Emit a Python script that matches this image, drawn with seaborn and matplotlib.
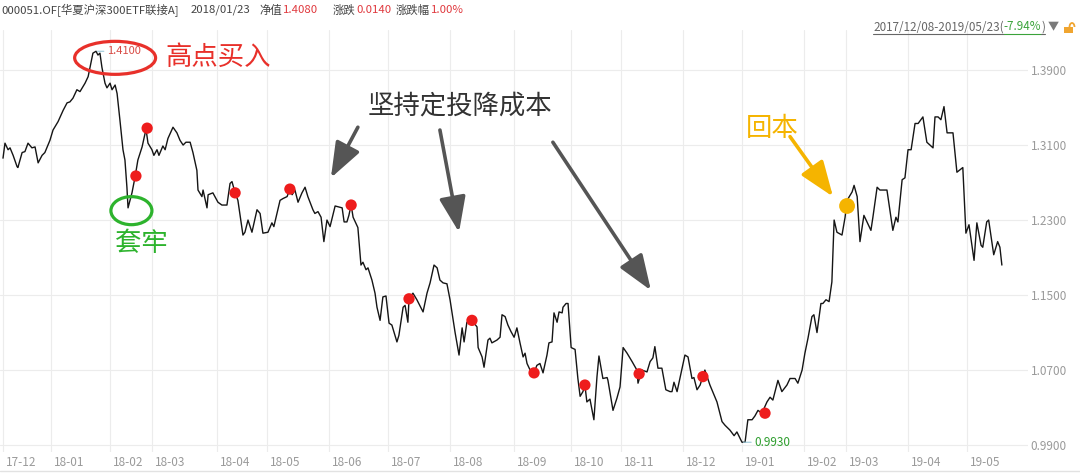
"""Fund NAV chart with buy-point annotations (000051.OF)."""

import matplotlib

matplotlib.use("Agg")
import matplotlib.pyplot as plt
import matplotlib.transforms as mtransforms
from matplotlib.lines import Line2D
from matplotlib.patches import Arc, Ellipse, Rectangle
import numpy as np
import pandas as pd
import seaborn as sns

sns.set_theme(style="white")
plt.rcParams["font.family"] = ["Noto Sans CJK SC", "DejaVu Sans"]

# ---- data ---------------------------------------------------------------
# trading-day index counted from 2017-12-08, and the unit NAV on that day
day = [
    0.0, 0.7, 1.8, 2.5, 3.6, 5.0, 5.3, 6.8, 7.8, 8.9,
    10.3, 11.4, 12.5, 13.9, 14.9, 16.7, 17.8, 19.6, 21.4, 22.8,
    23.8, 24.9, 26.3, 27.4, 29.2, 30.3, 31.3, 32.0, 33.1, 33.8,
    34.5, 35.2, 36.3, 37.0, 38.1, 38.8, 39.9, 40.6, 41.6, 42.7,
    43.4, 44.1, 44.5, 45.9, 47.0, 48.0, 49.5, 50.9, 51.6, 53.0,
    53.7, 54.8, 55.5, 56.9, 57.7, 58.7, 60.5, 61.9, 63.0, 64.1,
    65.1, 66.6, 67.6, 69.0, 69.4, 70.8, 71.2, 72.6, 73.0, 74.7,
    76.5, 77.9, 79.7, 80.8, 81.5, 82.6, 83.6, 85.4, 86.1, 87.2,
    88.6, 90.4, 91.5, 92.5, 94.3, 95.7, 96.4, 97.5, 98.6, 99.7,
    101.1, 102.1, 102.9, 103.9, 105.0, 106.4, 107.5, 108.5, 110.3, 111.0,
    112.1, 113.2, 114.2, 115.3, 116.4, 118.2, 120.7, 121.4, 122.4, 123.1,
    123.9, 124.6, 126.3, 127.4, 128.1, 129.2, 129.9, 131.3, 132.4, 133.1,
    134.2, 135.2, 136.3, 137.4, 138.4, 140.2, 140.9, 142.4, 143.1, 144.1,
    144.5, 145.9, 147.3, 149.5, 150.9, 152.0, 153.4, 154.5, 155.5, 156.6,
    158.0, 159.1, 160.9, 162.3, 163.4, 164.1, 165.1, 166.9, 168.7, 169.1,
    170.5, 171.2, 172.6, 173.3, 174.0, 175.8, 176.9, 177.6, 178.7, 179.7,
    180.8, 181.9, 182.9, 184.0, 185.1, 185.8, 186.5, 187.6, 189.0, 190.0,
    191.1, 192.2, 193.6, 194.3, 195.4, 196.1, 197.2, 197.9, 199.0, 199.3,
    200.4, 201.1, 202.2, 203.6, 204.6, 205.4, 206.4, 207.1, 207.8, 208.9,
    210.3, 211.4, 212.1, 213.5, 215.0, 215.3, 217.1, 218.5, 219.6, 220.7,
    222.1, 223.9, 225.6, 226.0, 227.4, 229.2, 230.3, 231.3, 232.0, 233.1,
    234.5, 235.9, 237.4, 238.1, 238.8, 239.9, 241.7, 242.7, 243.8, 245.2,
    245.9, 247.0, 248.1, 249.8, 251.6, 254.1, 255.9, 257.0, 258.7, 260.2,
    261.2, 263.0, 264.1, 265.1, 266.6, 267.6, 268.7, 270.1, 271.9, 273.0,
    274.0, 275.8, 277.2, 279.0, 280.1, 281.9, 282.9, 284.4, 285.4, 286.5,
    287.9, 288.6, 289.7, 291.1, 291.8, 292.9, 294.0, 295.0, 295.8, 296.8,
    298.6, 299.7, 300.4, 302.2, 302.9, 304.0, 305.0, 306.4, 307.5, 308.9,
    309.6, 311.1, 312.1, 314.6, 316.7, 317.8, 318.5, 320.0, 321.0, 322.1,
    323.2, 324.6, 325.7, 327.4, 328.8, 331.0, 331.7, 332.8, 333.8, 334.9,
    336.0, 338.1, 339.5, 341.6, 342.7, 343.8, 345.6, 346.6, 348.1, 348.7,
    350.1, 350.8, 352.6, 354.0, 354.8, 355.5,
]
nav = [
    1.296, 1.312, 1.305, 1.307, 1.299, 1.287, 1.286, 1.302, 1.303, 1.312,
    1.307, 1.308, 1.291, 1.299, 1.302, 1.315, 1.326, 1.335, 1.347, 1.355,
    1.356, 1.360, 1.369, 1.367, 1.376, 1.383, 1.398, 1.408, 1.410, 1.406,
    1.408, 1.393, 1.376, 1.371, 1.376, 1.369, 1.374, 1.365, 1.337, 1.305,
    1.294, 1.265, 1.243, 1.259, 1.276, 1.294, 1.308, 1.327, 1.312, 1.305,
    1.299, 1.305, 1.299, 1.309, 1.305, 1.317, 1.329, 1.323, 1.315, 1.310,
    1.313, 1.313, 1.302, 1.283, 1.262, 1.255, 1.262, 1.243, 1.257, 1.259,
    1.249, 1.246, 1.246, 1.269, 1.271, 1.259, 1.251, 1.214, 1.217, 1.230,
    1.217, 1.241, 1.237, 1.216, 1.217, 1.227, 1.223, 1.237, 1.251, 1.253,
    1.255, 1.263, 1.257, 1.262, 1.249, 1.259, 1.265, 1.255, 1.241, 1.237,
    1.239, 1.233, 1.207, 1.230, 1.223, 1.245, 1.243, 1.228, 1.228, 1.235,
    1.246, 1.233, 1.222, 1.182, 1.185, 1.177, 1.179, 1.166, 1.152, 1.137,
    1.123, 1.148, 1.149, 1.120, 1.118, 1.100, 1.107, 1.137, 1.139, 1.121,
    1.146, 1.152, 1.145, 1.132, 1.152, 1.163, 1.182, 1.179, 1.166, 1.163,
    1.162, 1.145, 1.110, 1.086, 1.115, 1.100, 1.121, 1.123, 1.116, 1.094,
    1.084, 1.073, 1.102, 1.104, 1.099, 1.102, 1.105, 1.129, 1.127, 1.118,
    1.111, 1.105, 1.115, 1.099, 1.084, 1.088, 1.077, 1.070, 1.067, 1.075,
    1.077, 1.067, 1.086, 1.099, 1.100, 1.131, 1.121, 1.132, 1.131, 1.137,
    1.141, 1.141, 1.094, 1.092, 1.061, 1.042, 1.047, 1.054, 1.036, 1.039,
    1.017, 1.063, 1.085, 1.061, 1.062, 1.059, 1.027, 1.040, 1.052, 1.094,
    1.088, 1.079, 1.070, 1.056, 1.070, 1.068, 1.079, 1.083, 1.095, 1.072,
    1.072, 1.049, 1.047, 1.047, 1.057, 1.047, 1.072, 1.086, 1.084, 1.061,
    1.062, 1.049, 1.054, 1.070, 1.054, 1.036, 1.015, 1.011, 1.006, 1.000,
    1.004, 0.993, 0.993, 1.017, 1.017, 1.021, 1.027, 1.024, 1.036, 1.041,
    1.038, 1.059, 1.047, 1.054, 1.061, 1.061, 1.056, 1.070, 1.088, 1.104,
    1.127, 1.129, 1.110, 1.141, 1.141, 1.145, 1.143, 1.164, 1.230, 1.217,
    1.214, 1.233, 1.251, 1.260, 1.267, 1.255, 1.207, 1.235, 1.228, 1.219,
    1.233, 1.265, 1.262, 1.262, 1.219, 1.233, 1.228, 1.273, 1.275, 1.305,
    1.305, 1.333, 1.333, 1.340, 1.313, 1.307, 1.340, 1.340, 1.337, 1.351,
    1.323, 1.323, 1.281, 1.286, 1.216, 1.225, 1.187, 1.227, 1.203, 1.201,
    1.228, 1.230, 1.193, 1.207, 1.201, 1.182,
]

# regular-investment buy points (red dots)
buy_day = [47.3, 51.3, 82.6, 102.1, 123.9, 144.5, 166.9, 189.0, 207.1, 226.4, 249.1, 271.2]
buy_nav = [1.277, 1.328, 1.259, 1.263, 1.246, 1.146, 1.123, 1.067, 1.054, 1.066, 1.063, 1.024]

# break-even point (yellow dot)
payback_day = 300.4
payback_nav = 1.245

month_days = [0, 17, 38, 53, 76, 94, 116, 137, 159, 182, 202, 220, 242, 263, 285, 300, 322, 343]
month_labels = [
    "17-12", "18-01", "18-02", "18-03", "18-04", "18-05", "18-06", "18-07", "18-08",
    "18-09", "18-10", "18-11", "18-12", "19-01", "19-02", "19-03", "19-04", "19-05",
]
nav_ticks = [0.99, 1.07, 1.15, 1.23, 1.31, 1.39]

fund_name = "000051.OF[华夏沪深300ETF联接A]"
quote_date = "2018/01/23"
quote_nav = "1.4080"
quote_chg = "0.0140"
quote_pct = "1.00%"
range_text = "2017/12/08-2019/05/23("
range_pct = "-7.94%"

# ---- colours ------------------------------------------------------------
RED = "#e8302a"
DOT_RED = "#ee1c1c"
GREEN = "#2db32d"
GOLD = "#f5b400"
ARROW_GRAY = "#555555"
TICK_GRAY = "#9a9a9a"
GRID = "#ececec"

W, H = 1080, 475
fig = plt.figure(figsize=(W / 100, H / 100), dpi=100)
fig.patch.set_facecolor("white")

# plot area: x 0..1028 px, y 30..452 px
ax = fig.add_axes([0, 1 - 452 / H, 1028 / W, (452 - 30) / H])
ax.set_facecolor("white")

df = pd.DataFrame({"day": day, "nav": nav})
sns.lineplot(data=df, x="day", y="nav", estimator=None, sort=False,
             color="#151515", linewidth=1.0, ax=ax, zorder=3)

sns.scatterplot(x=buy_day, y=buy_nav, s=66, color=DOT_RED, edgecolor="none",
                ax=ax, zorder=5)
ax.scatter([payback_day], [payback_nav], s=130, color=GOLD, edgecolor="none", zorder=5)

ax.set_xlim(-1.07, 364.8)
ax.set_ylim(0.9826, 1.4327)
ax.set_xlabel("")
ax.set_ylabel("")

for s in ax.spines.values():
    s.set_visible(False)

ax.set_xticks(month_days)
ax.set_yticks(nav_ticks)
ax.set_yticklabels([f"{v:.4f}" for v in nav_ticks])
ax.yaxis.tick_right()
ax.tick_params(axis="y", length=0, pad=2, labelsize=8.5, labelcolor=TICK_GRAY)
ax.tick_params(axis="x", length=0, labelbottom=False)
ax.grid(True, color=GRID, linewidth=0.8)
ax.set_axisbelow(True)

# month labels, left-aligned just right of each gridline
lab_trans = mtransforms.blended_transform_factory(ax.transData, ax.transAxes) + \
    mtransforms.ScaledTranslation(3 / 100, -10 / 100, fig.dpi_scale_trans)
for d, lab in zip(month_days, month_labels):
    ax.text(d, 0, lab, transform=lab_trans, ha="left", va="center",
            fontsize=8.5, color=TICK_GRAY, clip_on=False)

# max / min labels
i_max = int(np.argmax(nav))
i_min = int(np.argmin(nav))
ax.annotate(f"{nav[i_max]:.4f}", xy=(day[i_max], nav[i_max]), xytext=(8, 0),
            textcoords="offset points", ha="left", va="center", fontsize=8,
            color="#d84a44",
            arrowprops=dict(arrowstyle="-", color="#9cc8d8", lw=0.8,
                            shrinkA=0, shrinkB=1))
ax.annotate(f"{nav[i_min]:.4f}", xy=(day[i_min], nav[i_min]), xytext=(9, 0),
            textcoords="offset points", ha="left", va="center", fontsize=8.5,
            color="#2e9e2e",
            arrowprops=dict(arrowstyle="-", color="#9cc8d8", lw=0.8,
                            shrinkA=0, shrinkB=1))

# ---- hand-drawn style annotations ---------------------------------------
ax.add_patch(Ellipse((39.9, 1.403), 28.8, 0.0352, fill=False, edgecolor=RED,
                     linewidth=2.3, zorder=6, clip_on=False))
ax.text(76.5, 1.404, "高点买入", fontsize=19, color=RED, ha="center", va="center", zorder=6)

ax.add_patch(Ellipse((45.7, 1.240), 14.6, 0.0299, fill=False, edgecolor=GREEN,
                     linewidth=2.3, zorder=6))
ax.text(49.3, 1.205, "套牢", fontsize=19, color=GREEN, ha="center", va="center", zorder=6)

ax.text(162.6, 1.352, "坚持定投降成本", fontsize=19, color="#333333",
        ha="center", va="center", zorder=6)
arrow_kw = dict(arrowstyle="-|>,head_length=1.2,head_width=0.45", color=ARROW_GRAY,
                lw=2.6, mutation_scale=18, shrinkA=0, shrinkB=0)
for tail, tip in [((126.3, 1.329), (116.7, 1.275)),
                  ((155.5, 1.326), (162.3, 1.217)),
                  ((195.7, 1.313), (230.6, 1.155))]:
    ax.annotate("", xy=tip, xytext=tail, arrowprops=arrow_kw, zorder=6)

ax.text(273.7, 1.328, "回本", fontsize=19, color=GOLD, ha="center", va="center", zorder=6)
ax.annotate("", xy=(295.4, 1.255), xytext=(280.1, 1.319),
            arrowprops=dict(arrowstyle="-|>,head_length=1.2,head_width=0.45",
                            color=GOLD, lw=2.6, mutation_scale=18,
                            shrinkA=0, shrinkB=0), zorder=6)

# ---- header -------------------------------------------------------------
def fx(px):
    return px / W


def fy(py):
    return 1 - py / H


HEAD_GRAY = "#444444"
QUOTE_RED = "#e0393e"
hy = fy(10)
fig.text(fx(1), hy, fund_name, fontsize=8.2, color=HEAD_GRAY, va="center")
fig.text(fx(191), hy, quote_date, fontsize=8.2, color=HEAD_GRAY, va="center")
fig.text(fx(259), hy, "净值", fontsize=8.2, color=HEAD_GRAY, va="center")
fig.text(fx(283), hy, quote_nav, fontsize=8.2, color=QUOTE_RED, va="center")
fig.text(fx(333), hy, "涨跌", fontsize=8.2, color=HEAD_GRAY, va="center")
fig.text(fx(356), hy, quote_chg, fontsize=8.2, color=QUOTE_RED, va="center")
fig.text(fx(396), hy, "涨跌幅", fontsize=8.2, color=HEAD_GRAY, va="center")
fig.text(fx(431), hy, quote_pct, fontsize=8.2, color=QUOTE_RED, va="center")

# date range selector, top right (pieces placed one after another)
renderer = fig.canvas.get_renderer()
ry = fy(27)
x0 = 873
pieces = [(range_text, "#666666"), (range_pct, "#3aa33a"), (")", "#666666")]
for txt, col in pieces:
    t = fig.text(fx(x0), ry, txt, fontsize=8.4, color=col, va="center")
    bb = t.get_window_extent(renderer=renderer)
    fig.add_artist(Line2D([fx(x0), fx(x0 + bb.width)], [fy(34), fy(34)],
                          transform=fig.transFigure, color=col, lw=0.8))
    x0 += bb.width
fig.text(fx(x0 + 3), ry, "▼", fontsize=8, color="#7a7a7a", va="center")
fig.add_artist(Rectangle((fx(1064), fy(33)), 9 / W, 6 / H, transform=fig.transFigure,
                         color="#f0a530", lw=0))
fig.add_artist(Arc((fx(1072), fy(27)), 5 / W, 8 / H, theta1=0, theta2=180,
                   transform=fig.transFigure, color="#f0a530", lw=1.3))

# bottom border under the month strip
fig.add_artist(Line2D([0, 1], [fy(471), fy(471)], transform=fig.transFigure,
                      color="#e2e2e2", lw=1.0))

fig.savefig("out.png", dpi=100, facecolor="white")
plt.close(fig)
